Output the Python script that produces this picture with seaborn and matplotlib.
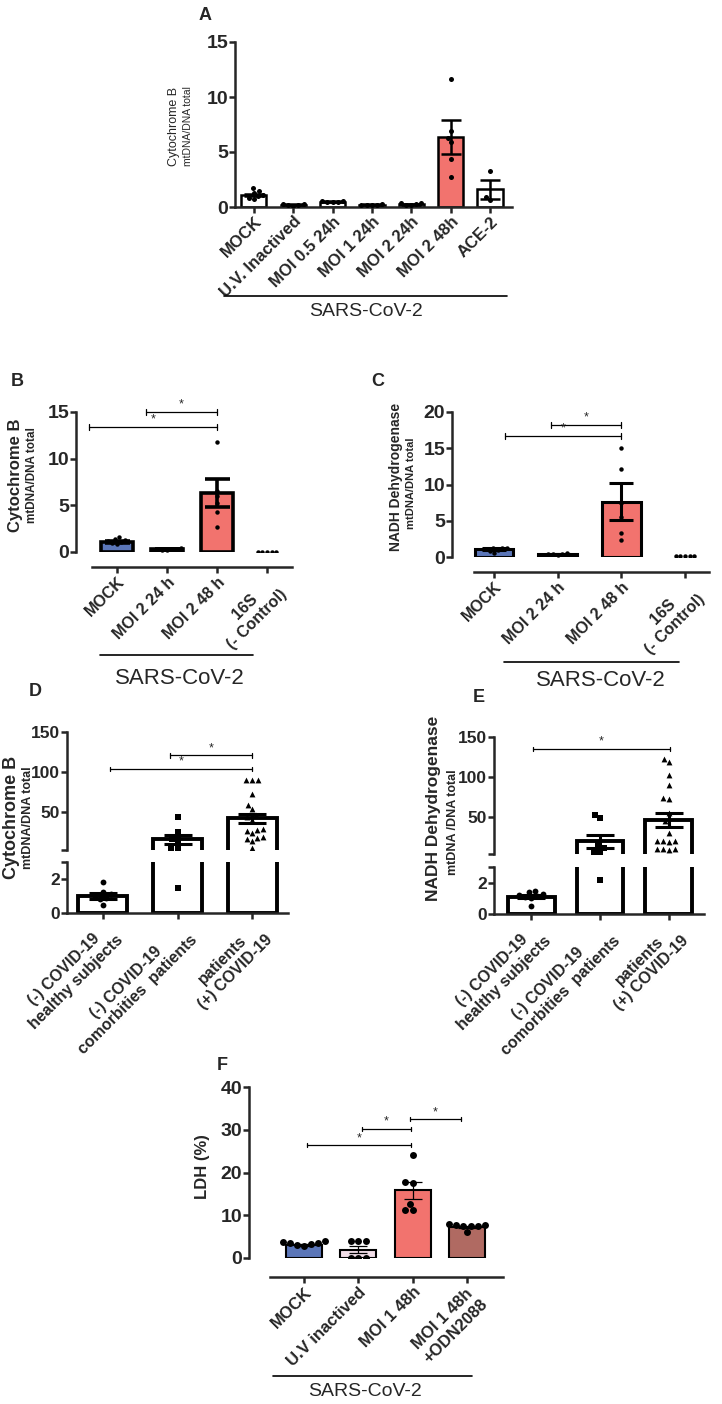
import numpy as np
import pandas as pd
import matplotlib
matplotlib.use("Agg")
import matplotlib.pyplot as plt
import seaborn as sns

W, H = 722, 1404

# ---------------- data ----------------
# A
a_groups = ["MOCK", "U.V. Inactived", "MOI 0.5 24h", "MOI 1 24h", "MOI 2 24h", "MOI 2 48h", "ACE-2"]
a_mean = [1.1, 0.2, 0.5, 0.2, 0.25, 6.4, 1.6]
a_sem = [0.12, 0.05, 0.03, 0.04, 0.05, 1.55, 0.85]
a_points = [[1.75, 1.45, 1.3, 1.1, 1.0, 0.85, 0.7],
            [0.3, 0.25, 0.2, 0.15, 0.1],
            [0.55, 0.55, 0.5, 0.5, 0.45],
            [0.25, 0.2, 0.2, 0.15, 0.15],
            [0.35, 0.35, 0.3, 0.2, 0.15],
            [11.6, 6.9, 6.3, 5.9, 4.4, 2.7],
            [3.3, 0.9, 0.6]]
a_colors = ["white", "white", "white", "white", "white", "#f2736e", "white"]

# B
bc_groups = ["MOCK", "MOI 2 24 h", "MOI 2 48 h", "16S\n(- Control)"]
b_mean = [1.1, 0.3, 6.3, 0.0]
b_sem = [0.1, 0.03, 1.5, 0.0]
b_points = [[1.6, 1.35, 1.3, 1.2, 1.1, 1.0, 0.9],
            [0.4, 0.35, 0.3, 0.3, 0.25, 0.2],
            [11.8, 6.5, 6.0, 5.2, 4.3, 2.7],
            [0, 0, 0, 0, 0]]
bc_colors = ["#5b76b8", "white", "#f2736e", "white"]

# C
c_mean = [1.1, 0.4, 7.6, 0.0]
c_sem = [0.1, 0.05, 2.55, 0.0]
c_points = [[1.3, 1.25, 1.2, 1.1, 0.9, 0.8, 0.6],
            [0.5, 0.45, 0.4, 0.35, 0.3],
            [15.0, 12.1, 7.5, 5.5, 3.3, 2.3],
            [0.1, 0.1, 0.1, 0.1, 0.1]]

# D / E
de_groups = ["(-) COVID-19\nhealthy subjects", "(-) COVID-19\ncomorbities  patients", "patients\n(+) COVID-19"]
de_markers = ["o", "s", "^"]
d_mean = [1.0, 16.5, 42.5]
d_sem = [0.18, 5.5, 5.5]
d_points = [[1.8, 1.25, 1.1, 1.0, 0.9, 0.8, 0.5],
            [44, 25, 17, 15, 6, 5, 1.5],
            [90, 90, 90, 73, 59, 54, 46, 44, 40, 28, 29, 27, 24, 19, 17, 18, 14, 6]]
e_mean = [1.1, 19.0, 46.0]
e_sem = [0.1, 8.0, 8.5]
e_points = [[1.5, 1.4, 1.3, 1.2, 1.15, 1.1, 1.05, 0.5],
            [52, 48, 14, 10, 6, 4, 2.2],
            [122, 118, 102, 90, 73, 72, 55, 45, 39, 30, 19, 19, 19, 18, 9, 9, 9, 8]]

# F
f_groups = ["MOCK", "U.V inactived", "MOI 1 48h", "MOI 1 48h\n+ODN2088"]
f_mean = [3.1, 1.9, 15.8, 7.2]
f_sem = [0.2, 0.8, 2.0, 0.25]
f_points = [[3.9, 3.8, 3.6, 3.5, 3.3, 3.0, 2.8],
            [3.9, 3.9, 3.9, 0.1, 0.1, 0.1],
            [24.2, 17.6, 17.8, 12.7, 11.2, 11.3],
            [7.9, 7.8, 7.7, 7.6, 7.5, 7.4, 6.0]]
f_colors = ["#5b76b8", "#f1dde7", "#f2736e", "#b06a62"]

# ---------------- helpers ----------------
sns.set_style("ticks")
plt.rcParams["font.family"] = ["Liberation Sans", "DejaVu Sans"]

fig = plt.figure(figsize=(W / 100, H / 100), dpi=100)


def px_axes(left, top, right, bottom):
    return fig.add_axes([left / W, 1 - bottom / H, (right - left) / W, (bottom - top) / H])


def ftext(x, y, s, **kw):
    fig.text(x / W, 1 - y / H, s, **kw)


def fline(x1, x2, y, lw=1.2):
    fig.add_artist(plt.Line2D([x1 / W, x2 / W], [1 - y / H, 1 - y / H], color="black", lw=lw))


def long_df(groups, points, lo=-np.inf, hi=np.inf):
    rows = [(g, v) for g, vals in zip(groups, points) for v in vals if lo <= v <= hi]
    return pd.DataFrame(rows, columns=["group", "value"])


def bars(ax, groups, means, sems, points, colors, width, lw, elw, cap, msize,
         markers=None, ylim=None, keep=(-np.inf, np.inf)):
    sns.barplot(x=groups, y=means, hue=groups, order=groups, palette=colors, width=width,
                edgecolor="black", linewidth=lw, errorbar=None, saturation=1,
                legend=False, ax=ax)
    for p in ax.patches:
        if p.get_height() == 0:
            p.set_edgecolor("none")
        if p.get_y() + p.get_height() <= ylim[0]:
            p.set_visible(False)
    ax.set_ylim(*ylim)
    df = long_df(groups, points, *keep)
    if markers is None:
        sns.swarmplot(data=df, x="group", y="value", order=groups, color="black",
                      size=msize, ax=ax, zorder=3, warn_thresh=1)
    else:
        for g, m in zip(groups, markers):
            sub = df[df.group == g]
            if len(sub):
                sns.swarmplot(data=sub, x="group", y="value", order=groups, color="black",
                              marker=m, size=msize, ax=ax, zorder=3, warn_thresh=1)
    idx = [i for i, s in enumerate(sems) if s > 0 and means[i] + s > ylim[0]]
    ax.errorbar(idx, [means[i] for i in idx], yerr=[sems[i] for i in idx], fmt="none",
                ecolor="black", elinewidth=elw, capsize=cap, capthick=elw, zorder=4)
    ax.set_xlabel("")
    ax.set_ylabel("")


def style(ax, spine_w, tick_fs, xlabel_fs, groups, xlim, offset=0, xbounds=None):
    ax.set_xlim(*xlim)
    for s in ["top", "right"]:
        ax.spines[s].set_visible(False)
    for s in ["left", "bottom"]:
        ax.spines[s].set_linewidth(spine_w)
    ax.spines["left"].set_bounds(*ax.get_ylim())
    if offset:
        ax.spines["bottom"].set_position(("outward", offset))
    if xbounds is not None:
        ax.spines["bottom"].set_bounds(*xbounds)
    ax.tick_params(axis="both", width=spine_w, length=4, pad=1)
    ax.set_xticks(range(len(groups)))
    ax.set_xticklabels(groups, rotation=45, ha="right", rotation_mode="anchor",
                       fontsize=xlabel_fs, fontweight="bold", multialignment="center")
    for t in ax.get_yticklabels():
        t.set_fontsize(tick_fs)
        t.set_fontweight("bold")


def bracket(ax, x1, x2, y, h, lw=0.9, fs=9):
    ax.plot([x1, x2], [y, y], color="black", lw=lw, clip_on=False)
    for x in (x1, x2):
        ax.plot([x, x], [y - h, y + h], color="black", lw=lw, clip_on=False)
    ax.text((x1 + x2) / 2, y + h * 0.5, "*", ha="center", va="bottom", fontsize=fs)


# ---------------- panel A ----------------
axA = px_axes(235, 42, 512, 207)
bars(axA, a_groups, a_mean, a_sem, a_points, a_colors, 0.64, 1.8, 1.8, 7, 3.6, ylim=(0, 15))
axA.set_yticks([0, 5, 10, 15])
style(axA, 1.8, 14, 12, a_groups, (-0.48, 6.56))
ftext(205, 15, "A", fontsize=13, fontweight="bold", ha="center", va="center")
ftext(174, 126, "Cytochrome B", fontsize=9, rotation=90, ha="center", va="center")
ftext(188, 126, "mtDNA/DNA total", fontsize=7.5, rotation=90, ha="center", va="center")
fline(224, 507, 296)
ftext(366, 312, "SARS-CoV-2", fontsize=14, ha="center", va="center")

# ---------------- panel B ----------------
axB = px_axes(76, 412, 292, 552)
bars(axB, bc_groups, b_mean, b_sem, b_points, bc_colors, 0.63, 2.6, 2.6, 9, 3.2, ylim=(0, 15))
axB.set_yticks([0, 5, 10, 15])
style(axB, 1.8, 14, 11.5, bc_groups, (-0.82, 3.5), offset=11, xbounds=(-0.5, 3.5))
bracket(axB, 0.57, 2.0, 15.0, 0.35)
bracket(axB, -0.57, 2.0, 13.4, 0.35)
ftext(17, 382, "B", fontsize=13, fontweight="bold", ha="center", va="center")
ftext(16, 475, "Cytochrome B", fontsize=12, fontweight="bold", rotation=90, ha="center", va="center")
ftext(32, 475, "mtDNA/DNA total", fontsize=8.5, fontweight="bold", rotation=90, ha="center", va="center")
fline(100, 253, 655)
ftext(180, 679, "SARS-CoV-2", fontsize=16, ha="center", va="center")

# ---------------- panel C ----------------
axC = px_axes(452, 412, 709, 557)
bars(axC, bc_groups, c_mean, c_sem, c_points, bc_colors, 0.61, 2.2, 2.2, 8.5, 3.2, ylim=(0, 20))
axC.set_yticks([0, 5, 10, 15, 20])
style(axC, 1.8, 14, 11.5, bc_groups, (-0.66, 3.375), offset=11, xbounds=(-0.31, 3.375))
bracket(axC, 0.9, 2.0, 18.2, 0.45)
bracket(axC, 0.17, 2.0, 16.7, 0.45)
ftext(378, 382, "C", fontsize=13, fontweight="bold", ha="center", va="center")
ftext(396, 477, "NADH Dehydrogenase", fontsize=10, fontweight="bold", rotation=90, ha="center", va="center")
ftext(411, 483, "mtDNA/DNA total", fontsize=8, fontweight="bold", rotation=90, ha="center", va="center")
fline(504, 679, 662)
ftext(601, 680, "SARS-CoV-2", fontsize=16, ha="center", va="center")


# ---------------- panels D / E (broken axis) ----------------
def broken(left, right, top_hi, bot_hi, top_lo, bot_lo, means, sems, points, xlim, width):
    up = px_axes(left, top_hi, right, bot_hi)
    lo = px_axes(left, top_lo, right, bot_lo)
    bars(up, de_groups, means, sems, points, ["white"] * 3, width, 2.8, 2.2, 10, 4.2,
         markers=de_markers, ylim=(3, 150), keep=(3, np.inf))
    bars(lo, de_groups, means, sems, points, ["white"] * 3, width, 2.8, 2.2, 10, 4.2,
         markers=de_markers, ylim=(0, 3), keep=(-np.inf, 3))
    style(up, 1.8, 12.5, 11.5, de_groups, xlim)
    style(lo, 1.8, 12.5, 11.5, de_groups, xlim)
    up.spines["bottom"].set_visible(False)
    up.tick_params(axis="x", bottom=False, labelbottom=False)
    up.set_yticks([3, 50, 100, 150])
    up.set_yticklabels(["", "50", "100", "150"], fontsize=12.5, fontweight="bold")
    lo.set_yticks([0, 2, 3])
    lo.set_yticklabels(["0", "2", ""], fontsize=12.5, fontweight="bold")
    return up, lo


axDu, axDl = broken(67, 288, 732, 850, 862, 913, d_mean, d_sem, d_points, (-0.48, 2.48), 0.66)
bracket(axDu, 0.9, 2.0, 121, 3)
bracket(axDu, 0.09, 2.0, 104, 3)
ftext(35, 692, "D", fontsize=13, fontweight="bold", ha="center", va="center")
ftext(12, 817, "Cytochrome B", fontsize=13, fontweight="bold", rotation=90, ha="center", va="center")
ftext(28, 818, "mtDNA/DNA total", fontsize=9, fontweight="bold", rotation=90, ha="center", va="center")

axEu, axEl = broken(494, 704, 737, 854, 867, 914, e_mean, e_sem, e_points, (-0.54, 2.51), 0.68)
bracket(axEu, 0.03, 2.01, 135, 3)
ftext(479, 698, "E", fontsize=13, fontweight="bold", ha="center", va="center")
ftext(433, 808, "NADH Dehydrogenase", fontsize=12.5, fontweight="bold", rotation=90, ha="center", va="center")
ftext(453, 822, "mtDNA /DNA total", fontsize=9, fontweight="bold", rotation=90, ha="center", va="center")

# ---------------- panel F ----------------
axF = px_axes(249, 1087, 503, 1258)
bars(axF, f_groups, f_mean, f_sem, f_points, f_colors, 0.66, 1.5, 0.9, 6.5, 5, ylim=(0, 40))
axF.set_yticks([0, 10, 20, 30, 40])
style(axF, 1.8, 14, 12, f_groups, (-1.01, 3.66), offset=14, xbounds=(-0.63, 3.66))
bracket(axF, 1.07, 1.97, 30.2, 0.5)
bracket(axF, 1.95, 2.89, 32.5, 0.5)
bracket(axF, 0.06, 1.97, 26.4, 0.5)
ftext(222, 1065, "F", fontsize=13, fontweight="bold", ha="center", va="center")
ftext(203, 1167, "LDH (%)", fontsize=12, fontweight="bold", rotation=90, ha="center", va="center")
fline(273, 472, 1376)
ftext(365, 1392, "SARS-CoV-2", fontsize=14, ha="center", va="center")

fig.savefig("out.png", dpi=100)
